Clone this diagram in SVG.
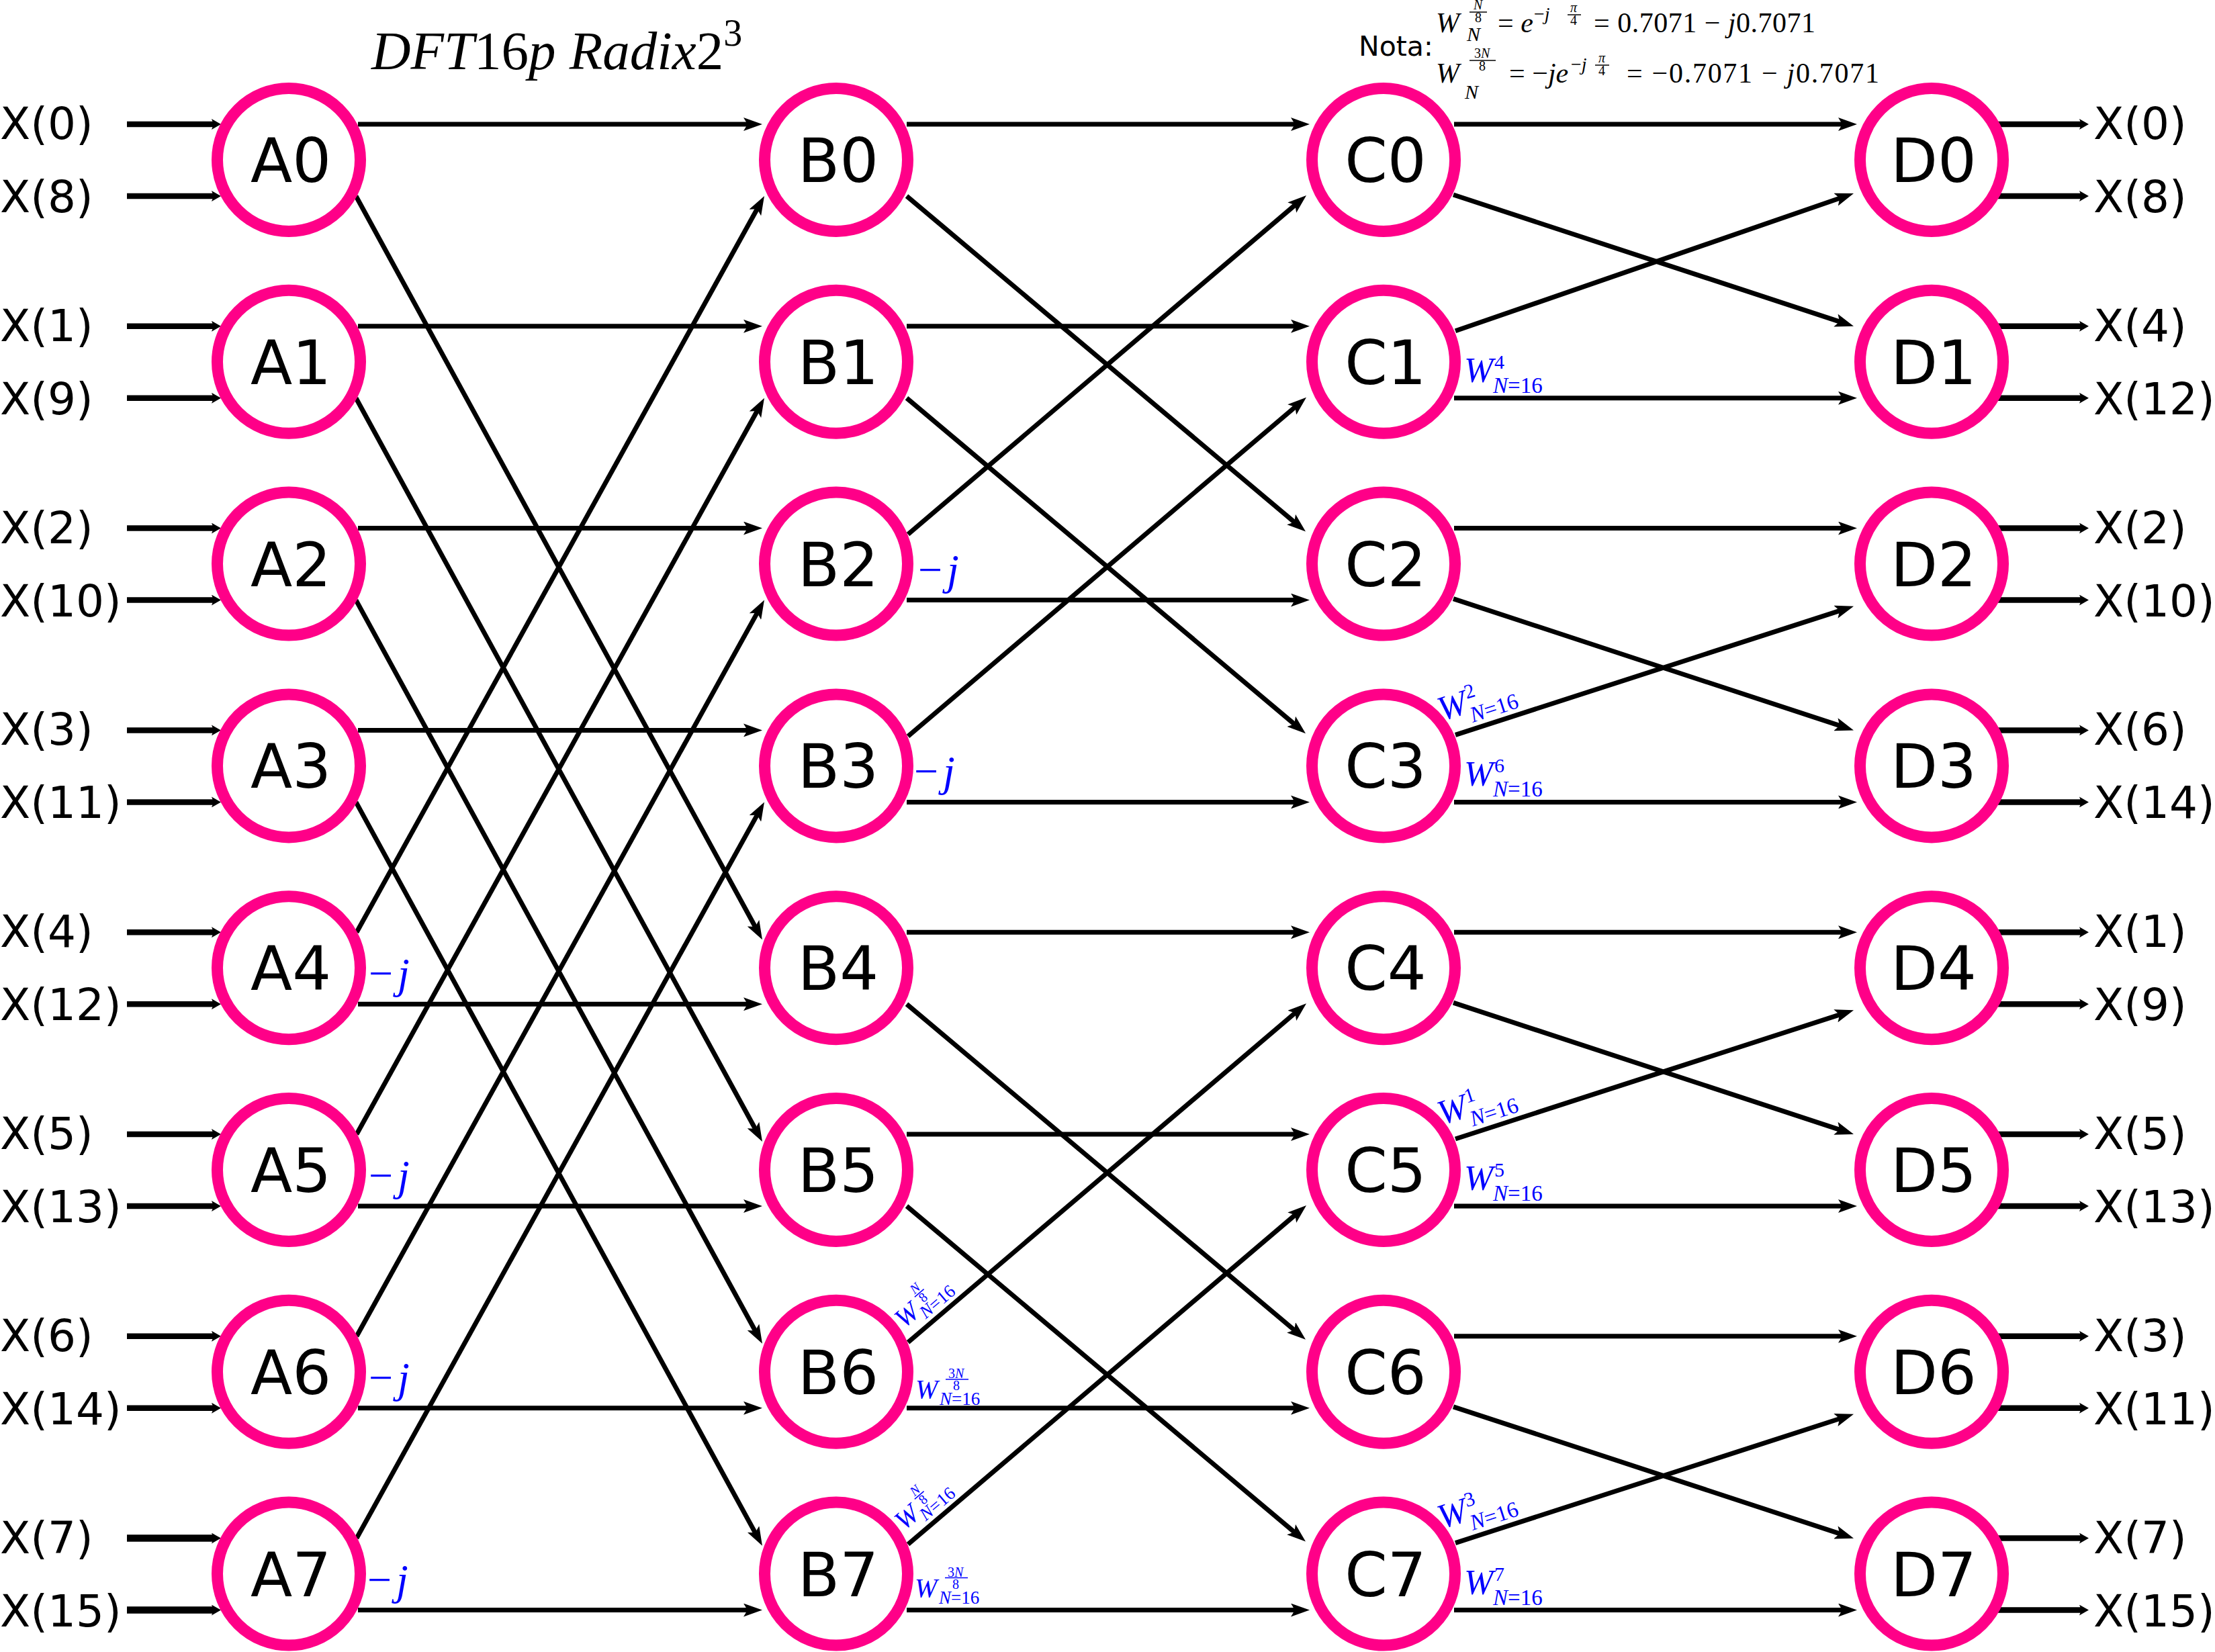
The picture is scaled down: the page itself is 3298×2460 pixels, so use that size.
<svg xmlns="http://www.w3.org/2000/svg" width="3298" height="2460" viewBox="0 0 3298 2460">
<style>
.node circle{fill:#fff;stroke:#ff0088;stroke-width:17}
.node text{font-family:"DejaVu Sans",sans-serif;font-size:91px;text-anchor:middle;fill:#000}
.lbl{font-family:"DejaVu Sans",sans-serif;font-size:66px;fill:#000}
#connectors line{stroke:#000;stroke-width:7;fill:none}
#connectors line.e{marker-end:url(#ah)}
#connectors line.in{stroke-width:8.5;marker-end:url(#sa)}
#connectors line.thick{stroke-width:10.5}
.tw{fill:#00f;font-family:"Liberation Serif","Times New Roman",serif;font-style:italic}
.up{font-style:normal}
.m{font-family:"Liberation Serif","Times New Roman",serif;fill:#000}
.it{font-style:italic}
.bar{stroke:#00f;stroke-width:1.5}
.kb{stroke:#000;stroke-width:1.5}
</style>
<defs>
<marker id="ah" markerUnits="userSpaceOnUse" markerWidth="28" markerHeight="20" viewBox="0 0 28 20" refX="8" refY="10" orient="auto"><path d="M0,0 L28,10 L0,20 L6,10 Z" fill="#000"/></marker>
<marker id="sa" markerUnits="userSpaceOnUse" markerWidth="14" markerHeight="16" viewBox="0 0 14 16" refX="4" refY="8" orient="auto"><path d="M0,0 L14,8 L0,16 L3,8 Z" fill="#000"/></marker>
</defs>
<rect width="3298" height="2460" fill="#fff"/>

<text x="553" y="103" class="m it" font-size="81">DFT<tspan class="up">16</tspan>p Radix<tspan class="up">2</tspan><tspan class="up" font-size="56" dy="-35">3</tspan></text>

<g id="nota">
<text x="2023" y="83" font-family="DejaVu Sans,sans-serif" font-size="41">Nota:</text>
<text class="m it" font-size="42" x="2138" y="48">W<tspan x="2194" y="14" font-size="20">N</tspan><tspan x="2196" y="33" font-size="20" class="up">8</tspan><tspan x="2184" y="61" font-size="30">N</tspan></text>
<line class="kb" x1="2188" y1="18" x2="2214" y2="18"/>
<text x="2230" y="48" class="m" font-size="42">= <tspan class="it">e</tspan></text>
<text x="2284" y="30" class="m" font-size="28">−<tspan class="it">j</tspan></text>
<text class="m" font-size="20" x="2338" y="18"><tspan class="it">π</tspan><tspan x="2338" y="37">4</tspan></text>
<line class="kb" x1="2334" y1="22" x2="2354" y2="22"/>
<text x="2373" y="48" class="m" font-size="42" textLength="330" lengthAdjust="spacing">= 0.7071 − <tspan class="it">j</tspan>0.7071</text>

<text class="m it" font-size="42" x="2138" y="123">W<tspan x="2195" y="86" font-size="20" class="up">3</tspan><tspan font-size="20">N</tspan><tspan x="2202" y="105" font-size="20" class="up">8</tspan><tspan x="2181" y="147" font-size="30">N</tspan></text>
<line class="kb" x1="2188" y1="90" x2="2227" y2="90"/>
<text x="2247" y="123" class="m" font-size="42">= −<tspan class="it">je</tspan></text>
<text x="2339" y="105" class="m" font-size="28">−<tspan class="it">j</tspan></text>
<text class="m" font-size="20" x="2380" y="93"><tspan class="it">π</tspan><tspan x="2380" y="112">4</tspan></text>
<line class="kb" x1="2375" y1="97" x2="2396" y2="97"/>
<text x="2422" y="123" class="m" font-size="42" textLength="376" lengthAdjust="spacing">= −0.7071 − <tspan class="it">j</tspan>0.7071</text>
</g>

<g id="connectors">
<line class="in" x1="189" y1="185" x2="319" y2="185"/>
<line class="in" x1="189" y1="292" x2="319" y2="292"/>
<line class="in" x1="189" y1="485.8" x2="319" y2="485.8"/>
<line class="in" x1="189" y1="592.8" x2="319" y2="592.8"/>
<line class="in" x1="189" y1="786.6" x2="319" y2="786.6"/>
<line class="in" x1="189" y1="893.6" x2="319" y2="893.6"/>
<line class="in" x1="189" y1="1087.4" x2="319" y2="1087.4"/>
<line class="in" x1="189" y1="1194.4" x2="319" y2="1194.4"/>
<line class="in" x1="189" y1="1388.2" x2="319" y2="1388.2"/>
<line class="in" x1="189" y1="1495.2" x2="319" y2="1495.2"/>
<line class="in" x1="189" y1="1689" x2="319" y2="1689"/>
<line class="in" x1="189" y1="1796" x2="319" y2="1796"/>
<line class="in" x1="189" y1="1989.8" x2="319" y2="1989.8"/>
<line class="in" x1="189" y1="2096.8" x2="319" y2="2096.8"/>
<line class="in thick" x1="189" y1="2290.6" x2="319" y2="2290.6"/>
<line class="in thick" x1="189" y1="2397.6" x2="319" y2="2397.6"/>

<line class="e" x1="533" y1="185" x2="1115" y2="185"/>
<line class="e" x1="533" y1="485.8" x2="1115" y2="485.8"/>
<line class="e" x1="533" y1="786.6" x2="1115" y2="786.6"/>
<line class="e" x1="533" y1="1087.4" x2="1115" y2="1087.4"/>
<line class="e" x1="533" y1="1495.2" x2="1115" y2="1495.2"/>
<line class="e" x1="533" y1="1796" x2="1115" y2="1796"/>
<line class="e" x1="533" y1="2096.8" x2="1115" y2="2096.8"/>
<line class="e" x1="533" y1="2397.6" x2="1115" y2="2397.6"/>
<line class="e" x1="530" y1="292" x2="1125.4" y2="1381.7"/>
<line class="e" x1="530" y1="592.8" x2="1125.4" y2="1682.5"/>
<line class="e" x1="530" y1="893.6" x2="1125.4" y2="1983.3"/>
<line class="e" x1="530" y1="1194.4" x2="1125.4" y2="2284.1"/>
<line class="e" x1="531" y1="1388.2" x2="1128.3" y2="309.5"/>
<line class="e" x1="531" y1="1689" x2="1128.3" y2="610.3"/>
<line class="e" x1="531" y1="1989.8" x2="1128.3" y2="911.1"/>
<line class="e" x1="531" y1="2290.6" x2="1128.3" y2="1211.9"/>

<line class="e" x1="1350" y1="185" x2="1930" y2="185"/>
<line class="e" x1="1350" y1="485.8" x2="1930" y2="485.8"/>
<line class="e" x1="1350" y1="893.6" x2="1930" y2="893.6"/>
<line class="e" x1="1350" y1="1194.4" x2="1930" y2="1194.4"/>
<line class="e" x1="1350" y1="1388.2" x2="1930" y2="1388.2"/>
<line class="e" x1="1350" y1="1689" x2="1930" y2="1689"/>
<line class="e" x1="1350" y1="2096.8" x2="1930" y2="2096.8"/>
<line class="e" x1="1350" y1="2397.6" x2="1930" y2="2397.6"/>
<line class="e" x1="1350" y1="292" x2="1928.7" y2="778.7"/>
<line class="e" x1="1350" y1="592.8" x2="1928.7" y2="1079.5"/>
<line class="e" x1="1350" y1="1495.2" x2="1928.7" y2="1981.9"/>
<line class="e" x1="1350" y1="1796" x2="1928.7" y2="2282.7"/>
<line class="e" x1="1352" y1="795.6" x2="1929.8" y2="304"/>
<line class="e" x1="1352" y1="1096.4" x2="1929.8" y2="604.8"/>
<line class="e" x1="1352" y1="1998.8" x2="1929.8" y2="1507.2"/>
<line class="e" x1="1352" y1="2299.6" x2="1929.8" y2="1808"/>

<line class="e" x1="2165" y1="185" x2="2745" y2="185"/>
<line class="e" x1="2165" y1="592.8" x2="2745" y2="592.8"/>
<line class="e" x1="2165" y1="786.6" x2="2745" y2="786.6"/>
<line class="e" x1="2165" y1="1194.4" x2="2745" y2="1194.4"/>
<line class="e" x1="2165" y1="1388.2" x2="2745" y2="1388.2"/>
<line class="e" x1="2165" y1="1796" x2="2745" y2="1796"/>
<line class="e" x1="2165" y1="1989.8" x2="2745" y2="1989.8"/>
<line class="e" x1="2165" y1="2397.6" x2="2745" y2="2397.6"/>
<line class="e" x1="2164" y1="290" x2="2741" y2="479.6"/>
<line class="e" x1="2164" y1="891.6" x2="2741" y2="1081.2"/>
<line class="e" x1="2164" y1="1493.2" x2="2741" y2="1682.8"/>
<line class="e" x1="2164" y1="2094.8" x2="2741" y2="2284.4"/>
<line class="e" x1="2167" y1="492.8" x2="2741.1" y2="294.5"/>
<line class="e" x1="2167" y1="1094.4" x2="2741" y2="908.8"/>
<line class="e" x1="2167" y1="1696" x2="2741" y2="1510.4"/>
<line class="e" x1="2167" y1="2297.6" x2="2741" y2="2112"/>

<line class="in" x1="2975" y1="185" x2="3100" y2="185"/>
<line class="in" x1="2975" y1="292" x2="3100" y2="292"/>
<line class="in" x1="2975" y1="485.8" x2="3100" y2="485.8"/>
<line class="in" x1="2975" y1="592.8" x2="3100" y2="592.8"/>
<line class="in" x1="2975" y1="786.6" x2="3100" y2="786.6"/>
<line class="in" x1="2975" y1="893.6" x2="3100" y2="893.6"/>
<line class="in" x1="2975" y1="1087.4" x2="3100" y2="1087.4"/>
<line class="in" x1="2975" y1="1194.4" x2="3100" y2="1194.4"/>
<line class="in" x1="2975" y1="1388.2" x2="3100" y2="1388.2"/>
<line class="in" x1="2975" y1="1495.2" x2="3100" y2="1495.2"/>
<line class="in" x1="2975" y1="1689" x2="3100" y2="1689"/>
<line class="in" x1="2975" y1="1796" x2="3100" y2="1796"/>
<line class="in" x1="2975" y1="1989.8" x2="3100" y2="1989.8"/>
<line class="in" x1="2975" y1="2096.8" x2="3100" y2="2096.8"/>
<line class="in" x1="2975" y1="2290.6" x2="3100" y2="2290.6"/>
<line class="in" x1="2975" y1="2397.6" x2="3100" y2="2397.6"/>
</g>

<g id="inputs" class="lbl">
<text x="0" y="207">X(0)</text><text x="0" y="316">X(8)</text>
<text x="0" y="507.8">X(1)</text><text x="0" y="616.8">X(9)</text>
<text x="0" y="808.6">X(2)</text><text x="0" y="917.6">X(10)</text>
<text x="0" y="1109.4">X(3)</text><text x="0" y="1218.4">X(11)</text>
<text x="0" y="1410.2">X(4)</text><text x="0" y="1519.2">X(12)</text>
<text x="0" y="1711">X(5)</text><text x="0" y="1820">X(13)</text>
<text x="0" y="2011.8">X(6)</text><text x="0" y="2120.8">X(14)</text>
<text x="0" y="2312.6">X(7)</text><text x="0" y="2421.6">X(15)</text>
</g>
<g id="outputs" class="lbl">
<text x="3117" y="207">X(0)</text><text x="3117" y="316">X(8)</text>
<text x="3117" y="507.8">X(4)</text><text x="3117" y="616.8">X(12)</text>
<text x="3117" y="808.6">X(2)</text><text x="3117" y="917.6">X(10)</text>
<text x="3117" y="1109.4">X(6)</text><text x="3117" y="1218.4">X(14)</text>
<text x="3117" y="1410.2">X(1)</text><text x="3117" y="1519.2">X(9)</text>
<text x="3117" y="1711">X(5)</text><text x="3117" y="1820">X(13)</text>
<text x="3117" y="2011.8">X(3)</text><text x="3117" y="2120.8">X(11)</text>
<text x="3117" y="2312.6">X(7)</text><text x="3117" y="2421.6">X(15)</text>
</g>

<g id="A0" class="node"><circle cx="430" cy="238" r="106.5"/><text x="433" y="271">A0</text></g>
<g id="A1" class="node"><circle cx="430" cy="538.8" r="106.5"/><text x="433" y="571.8">A1</text></g>
<g id="A2" class="node"><circle cx="430" cy="839.6" r="106.5"/><text x="433" y="872.6">A2</text></g>
<g id="A3" class="node"><circle cx="430" cy="1140.4" r="106.5"/><text x="433" y="1173.4">A3</text></g>
<g id="A4" class="node"><circle cx="430" cy="1441.2" r="106.5"/><text x="433" y="1474.2">A4</text></g>
<g id="A5" class="node"><circle cx="430" cy="1742" r="106.5"/><text x="433" y="1775">A5</text></g>
<g id="A6" class="node"><circle cx="430" cy="2042.8" r="106.5"/><text x="433" y="2075.8">A6</text></g>
<g id="A7" class="node"><circle cx="430" cy="2343.6" r="106.5"/><text x="433" y="2376.6">A7</text></g>

<g id="B0" class="node"><circle cx="1245" cy="238" r="106.5"/><text x="1248" y="271">B0</text></g>
<g id="B1" class="node"><circle cx="1245" cy="538.8" r="106.5"/><text x="1248" y="571.8">B1</text></g>
<g id="B2" class="node"><circle cx="1245" cy="839.6" r="106.5"/><text x="1248" y="872.6">B2</text></g>
<g id="B3" class="node"><circle cx="1245" cy="1140.4" r="106.5"/><text x="1248" y="1173.4">B3</text></g>
<g id="B4" class="node"><circle cx="1245" cy="1441.2" r="106.5"/><text x="1248" y="1474.2">B4</text></g>
<g id="B5" class="node"><circle cx="1245" cy="1742" r="106.5"/><text x="1248" y="1775">B5</text></g>
<g id="B6" class="node"><circle cx="1245" cy="2042.8" r="106.5"/><text x="1248" y="2075.8">B6</text></g>
<g id="B7" class="node"><circle cx="1245" cy="2343.6" r="106.5"/><text x="1248" y="2376.6">B7</text></g>

<g id="C0" class="node"><circle cx="2060" cy="238" r="106.5"/><text x="2063" y="271">C0</text></g>
<g id="C1" class="node"><circle cx="2060" cy="538.8" r="106.5"/><text x="2063" y="571.8">C1</text></g>
<g id="C2" class="node"><circle cx="2060" cy="839.6" r="106.5"/><text x="2063" y="872.6">C2</text></g>
<g id="C3" class="node"><circle cx="2060" cy="1140.4" r="106.5"/><text x="2063" y="1173.4">C3</text></g>
<g id="C4" class="node"><circle cx="2060" cy="1441.2" r="106.5"/><text x="2063" y="1474.2">C4</text></g>
<g id="C5" class="node"><circle cx="2060" cy="1742" r="106.5"/><text x="2063" y="1775">C5</text></g>
<g id="C6" class="node"><circle cx="2060" cy="2042.8" r="106.5"/><text x="2063" y="2075.8">C6</text></g>
<g id="C7" class="node"><circle cx="2060" cy="2343.6" r="106.5"/><text x="2063" y="2376.6">C7</text></g>

<g id="D0" class="node"><circle cx="2876" cy="238" r="106.5"/><text x="2879" y="271">D0</text></g>
<g id="D1" class="node"><circle cx="2876" cy="538.8" r="106.5"/><text x="2879" y="571.8">D1</text></g>
<g id="D2" class="node"><circle cx="2876" cy="839.6" r="106.5"/><text x="2879" y="872.6">D2</text></g>
<g id="D3" class="node"><circle cx="2876" cy="1140.4" r="106.5"/><text x="2879" y="1173.4">D3</text></g>
<g id="D4" class="node"><circle cx="2876" cy="1441.2" r="106.5"/><text x="2879" y="1474.2">D4</text></g>
<g id="D5" class="node"><circle cx="2876" cy="1742" r="106.5"/><text x="2879" y="1775">D5</text></g>
<g id="D6" class="node"><circle cx="2876" cy="2042.8" r="106.5"/><text x="2879" y="2075.8">D6</text></g>
<g id="D7" class="node"><circle cx="2876" cy="2343.6" r="106.5"/><text x="2879" y="2376.6">D7</text></g>

<g id="twiddles">
<text class="tw" x="549" y="1471" font-size="64"><tspan class="up">−</tspan><tspan dx="7">j</tspan></text>
<text class="tw" x="549" y="1772" font-size="64"><tspan class="up">−</tspan><tspan dx="7">j</tspan></text>
<text class="tw" x="549" y="2072.8" font-size="64"><tspan class="up">−</tspan><tspan dx="7">j</tspan></text>
<text class="tw" x="547" y="2373.6" font-size="64"><tspan class="up">−</tspan><tspan dx="7">j</tspan></text>
<text class="tw" x="1367" y="869.6" font-size="64"><tspan class="up">−</tspan><tspan dx="7">j</tspan></text>
<text class="tw" x="1361" y="1170.4" font-size="64"><tspan class="up">−</tspan><tspan dx="7">j</tspan></text>

<g transform="translate(1363,2082)"><text class="tw" font-size="40">W<tspan x="36" y="10" font-size="27">N<tspan class="up">=16</tspan></tspan><tspan x="49" y="-30" font-size="20" class="up">3</tspan><tspan font-size="20">N</tspan><tspan x="56" y="-12" font-size="20" class="up">8</tspan></text><line class="bar" x1="45" y1="-28" x2="79" y2="-28"/></g>
<g transform="translate(1362,2377.6)"><text class="tw" font-size="40">W<tspan x="36" y="10" font-size="27">N<tspan class="up">=16</tspan></tspan><tspan x="49" y="-30" font-size="20" class="up">3</tspan><tspan font-size="20">N</tspan><tspan x="56" y="-12" font-size="20" class="up">8</tspan></text><line class="bar" x1="45" y1="-28" x2="79" y2="-28"/></g>
<g transform="translate(1346,1979) rotate(-40.4)"><text class="tw" font-size="40">W<tspan x="34" y="10" font-size="27">N<tspan class="up">=16</tspan></tspan><tspan x="45" y="-29" font-size="20">N</tspan><tspan x="47" y="-11" font-size="20" class="up">8</tspan></text><line class="bar" x1="43" y1="-26" x2="61" y2="-26"/></g>
<g transform="translate(1346,2280) rotate(-40.4)"><text class="tw" font-size="40">W<tspan x="34" y="10" font-size="27">N<tspan class="up">=16</tspan></tspan><tspan x="45" y="-29" font-size="20">N</tspan><tspan x="47" y="-11" font-size="20" class="up">8</tspan></text><line class="bar" x1="43" y1="-26" x2="61" y2="-26"/></g>

<text class="tw" transform="translate(2180,568.8)" font-size="52">W<tspan x="45" y="-20" font-size="30" class="up">4</tspan><tspan x="43" y="16" font-size="33">N<tspan class="up">=16</tspan></tspan></text>
<text class="tw" transform="translate(2180,1170.4)" font-size="52">W<tspan x="45" y="-20" font-size="30" class="up">6</tspan><tspan x="43" y="16" font-size="33">N<tspan class="up">=16</tspan></tspan></text>
<text class="tw" transform="translate(2180,1772)" font-size="52">W<tspan x="45" y="-20" font-size="30" class="up">5</tspan><tspan x="43" y="16" font-size="33">N<tspan class="up">=16</tspan></tspan></text>
<text class="tw" transform="translate(2180,2373.6)" font-size="52">W<tspan x="45" y="-20" font-size="30" class="up">7</tspan><tspan x="43" y="16" font-size="33">N<tspan class="up">=16</tspan></tspan></text>
<text class="tw" transform="translate(2147,1073.9) rotate(-17.9)" font-size="52">W<tspan x="45" y="-20" font-size="30" class="up">2</tspan><tspan x="43" y="16" font-size="33">N<tspan class="up">=16</tspan></tspan></text>
<text class="tw" transform="translate(2147,1675.5) rotate(-17.9)" font-size="52">W<tspan x="45" y="-20" font-size="30" class="up">1</tspan><tspan x="43" y="16" font-size="33">N<tspan class="up">=16</tspan></tspan></text>
<text class="tw" transform="translate(2147,2277.1) rotate(-17.9)" font-size="52">W<tspan x="45" y="-20" font-size="30" class="up">3</tspan><tspan x="43" y="16" font-size="33">N<tspan class="up">=16</tspan></tspan></text>
</g>
</svg>
